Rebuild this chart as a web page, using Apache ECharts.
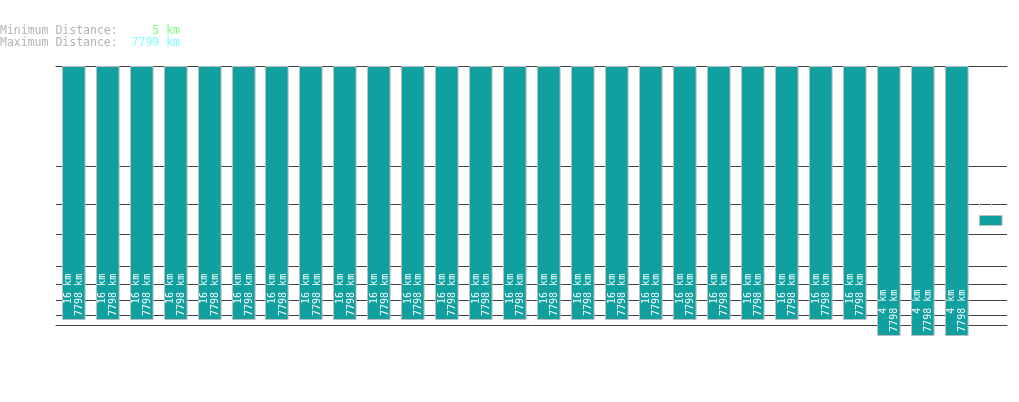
<!DOCTYPE html>
<html>
<head>
<meta charset="UTF-8">
<title>Distance chart</title>
<style>
  html, body { margin: 0; padding: 0; background: #fff; }
  #chart { width: 1019px; height: 402px; }
</style>
</head>
<body>
<div id="chart"></div>
<script src="https://cdn.jsdelivr.net/npm/echarts@6/dist/echarts.min.js"></script>
<script>
// summary numbers shown at the top
var minDistance = 5;
var maxDistance = 7799;

// one range bar per slot: low and high distance in km
var lowKm  = [16,16,16,16,16,16,16,16,16,16,16,16,16,16,16,16,16,16,16,16,16,16,16,16,4,4,4,625];
var highKm = [7798,7798,7798,7798,7798,7798,7798,7798,7798,7798,7798,7798,7798,7798,7798,7798,7798,7798,7798,7798,7798,7798,7798,7798,7798,7798,7798,786];
// which bars get the rotated "low / high" text
var showText = [1,1,1,1,1,1,1,1,1,1,1,1,1,1,1,1,1,1,1,1,1,1,1,1,1,1,1,0];
// horizontal guide lines (km); the top edge and the base are drawn by the axes
var gridKm = [20, 50, 100, 200, 500, 1000, 2000];
var axisMinKm = 10;
var axisMaxKm = 7798;

// the vertical scale is a power scale (km^0.3)
var POW = 0.3;
function t(v) { return Math.pow(v, POW); }

var cats = [];
var barData = [];
for (var i = 0; i < lowKm.length; i++) {
  cats.push(String(i));
  barData.push([i, t(lowKm[i]), t(highKm[i]), lowKm[i], highKm[i], showText[i]]);
}

var FONT = '"DejaVu Sans Mono", "Liberation Mono", monospace';

function renderItem(params, api) {
  var idx = api.value(0);
  var pLo = api.coord([idx, api.value(1)]);
  var pHi = api.coord([idx, api.value(2)]);
  var w = api.size([1, 0])[0] * 0.665;
  var x = Math.round(pLo[0] - w / 2) + 0.5;
  var children = [{
    type: 'rect',
    shape: { x: x, y: Math.round(pHi[1]) + 0.5, width: w, height: Math.round(pLo[1]) - Math.round(pHi[1]) },
    style: { fill: '#11a0a0', stroke: '#bdbdbd', lineWidth: 1 }
  }];
  if (api.value(5)) {
    children.push({
      type: 'text',
      x: pLo[0] + 1,
      y: pLo[1] - 45,
      rotation: Math.PI / 2,
      z2: 10,
      style: {
        text: api.value(3) + ' km\n' + api.value(4) + ' km',
        fill: '#ffffff',
        font: '10px ' + FONT,
        align: 'right',
        verticalAlign: 'middle',
        lineHeight: 10.5
      }
    });
  } else {
    children.push({
      type: 'text',
      x: pLo[0],
      y: pHi[1] - 2,
      z2: 10,
      style: {
        text: minDistance + ' km',
        fill: '#ffffff',
        font: '10px ' + FONT,
        align: 'center',
        verticalAlign: 'bottom'
      }
    });
  }
  return { type: 'group', children: children };
}

var chart = echarts.init(document.getElementById('chart'));
var option = {
  backgroundColor: '#ffffff',
  animation: false,
  title: {
    left: 0,
    top: 25,
    padding: 0,
    text: '{g|Minimum Distance:}{a|     ' + minDistance + ' km}\n{g|Maximum Distance:}{b|  ' + maxDistance + ' km}',
    textStyle: {
      fontFamily: FONT,
      fontSize: 11.5,
      fontWeight: 'normal',
      lineHeight: 11.7,
      rich: {
        g: { color: '#b4b4b4', fontFamily: FONT, fontSize: 11.5, lineHeight: 11.7 },
        a: { color: '#7cff7c', fontFamily: FONT, fontSize: 11.5, lineHeight: 11.7 },
        b: { color: '#7cffff', fontFamily: FONT, fontSize: 11.5, lineHeight: 11.7 }
      }
    }
  },
  grid: { left: 56, right: 12, top: 66, bottom: 77, containLabel: false },
  xAxis: [{
    type: 'category',
    data: cats,
    boundaryGap: true,
    axisLine: { show: true, lineStyle: { color: '#404040', width: 1 } },
    axisTick: { show: false },
    axisLabel: { show: false },
    splitLine: { show: false }
  }, {
    type: 'category',
    position: 'top',
    data: cats,
    axisLine: { show: true, lineStyle: { color: '#404040', width: 1 } },
    axisTick: { show: false },
    axisLabel: { show: false },
    splitLine: { show: false }
  }],
  yAxis: {
    type: 'value',
    min: t(axisMinKm),
    max: t(axisMaxKm),
    axisLine: { show: false },
    axisTick: { show: false },
    axisLabel: { show: false },
    splitLine: { show: false }
  },
  series: [
    {
      type: 'line',
      data: [],
      z: 1,
      silent: true,
      markLine: {
        z: 1,
        silent: true,
        symbol: ['none', 'none'],
        label: { show: false },
        lineStyle: { color: '#404040', width: 1, type: 'solid' },
        data: gridKm.map(function (v) { return { yAxis: t(v) }; })
      }
    },
    {
      type: 'custom',
      z: 3,
      clip: false,
      renderItem: renderItem,
      encode: { x: 0, y: [1, 2] },
      data: barData
    }
  ]
};
chart.setOption(option);
window.addEventListener('resize', function () { chart.resize(); });
</script>
</body>
</html>
